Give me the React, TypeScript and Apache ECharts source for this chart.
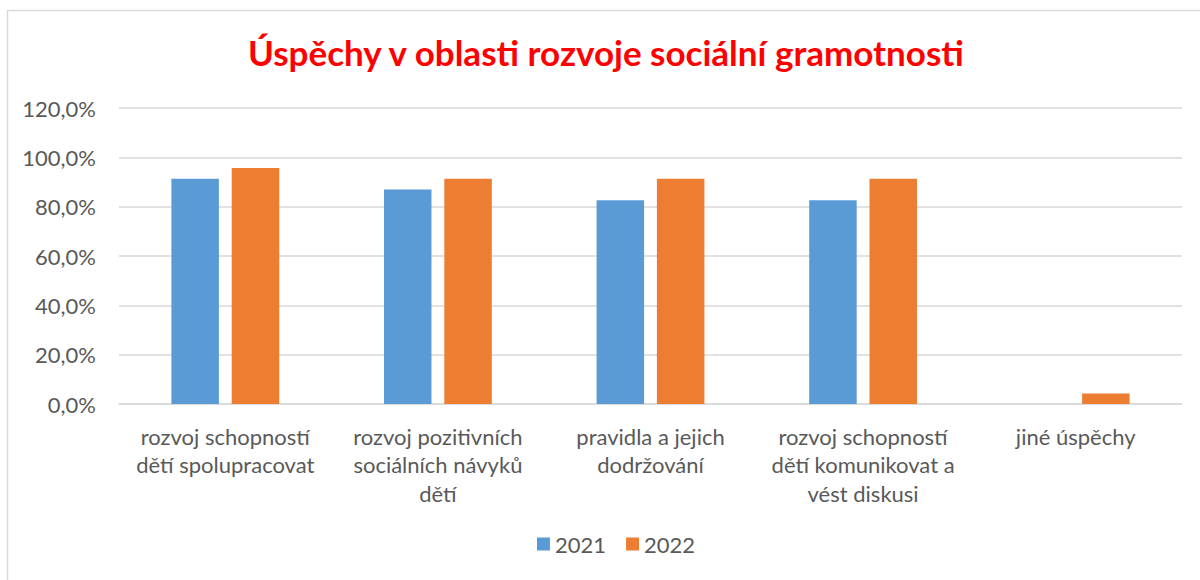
import React, { useEffect, useRef } from "react";
import * as echarts from "echarts";

const categories = [
  "rozvoj schopností\ndětí spolupracovat",
  "rozvoj pozitivních\nsociálních návyků\ndětí",
  "pravidla a jejich\ndodržování",
  "rozvoj schopností\ndětí komunikovat a\nvést diskusi",
  "jiné úspěchy",
];
const values2021 = [91.3, 87.0, 82.6, 82.6, 0];
const values2022 = [95.7, 91.3, 91.3, 91.3, 4.3];
const seriesNames = ["2021", "2022"];
const colors = ["#5B9BD5", "#ED7D31"];
const titleText = "Úspěchy v oblasti rozvoje sociální gramotnosti";

export default function App() {
  const ref = useRef<HTMLDivElement>(null);
  useEffect(() => {
    if (!ref.current) return;
    const chart = echarts.init(ref.current, undefined, { renderer: "svg" });
    const font = "Lato, 'Open Sans', sans-serif";
    chart.setOption({
      animation: false,
      backgroundColor: "#ffffff",
      title: {
        text: titleText,
        left: 243,
        top: 29,
        textStyle: { color: "#FF0000", fontSize: 35, fontWeight: "bold", fontFamily: font },
      },
      legend: {
        bottom: 20,
        left: 532,
        itemWidth: 13,
        itemHeight: 13,
        itemGap: 20,
        icon: "rect",
        textStyle: { color: "#595959", fontSize: 22, fontFamily: font },
        data: seriesNames,
      },
      grid: { left: 119, right: 18, top: 108, bottom: 176, containLabel: false },
      xAxis: {
        type: "category",
        data: categories,
        axisLine: { lineStyle: { color: "#D9D9D9", width: 1.5 } },
        axisTick: { show: false },
        axisLabel: {
          color: "#595959",
          fontSize: 22,
          lineHeight: 28.5,
          fontFamily: font,
          margin: 18,
          interval: 0,
        },
      },
      yAxis: {
        type: "value",
        min: 0,
        max: 120,
        interval: 20,
        axisLine: { show: false },
        axisTick: { show: false },
        splitLine: { lineStyle: { color: "#D9D9D9", width: 1.5 } },
        axisLabel: {
          color: "#595959",
          fontSize: 22,
          fontFamily: font,
          margin: 23,
          formatter: (v: number) => v.toFixed(1).replace(".", ",") + "%",
        },
      },
      graphic: [
        {
          type: "rect",
          shape: { x: 7.5, y: 10.5, width: 1220, height: 600 },
          style: { fill: "none", stroke: "#D9D9D9", lineWidth: 1.5 },
          silent: true,
        },
      ],
      series: [
        {
          name: seriesNames[0],
          type: "bar",
          data: values2021,
          barWidth: 47.5,
          barGap: "27%",
          itemStyle: { color: colors[0] },
        },
        {
          name: seriesNames[1],
          type: "bar",
          data: values2022,
          barWidth: 47.5,
          barGap: "27%",
          itemStyle: { color: colors[1] },
        },
      ],
    });
    return () => chart.dispose();
  }, []);
  return (
    <div
      ref={ref}
      style={{ position: "fixed", left: 0, top: 0, width: 1200, height: 580 }}
    />
  );
}
